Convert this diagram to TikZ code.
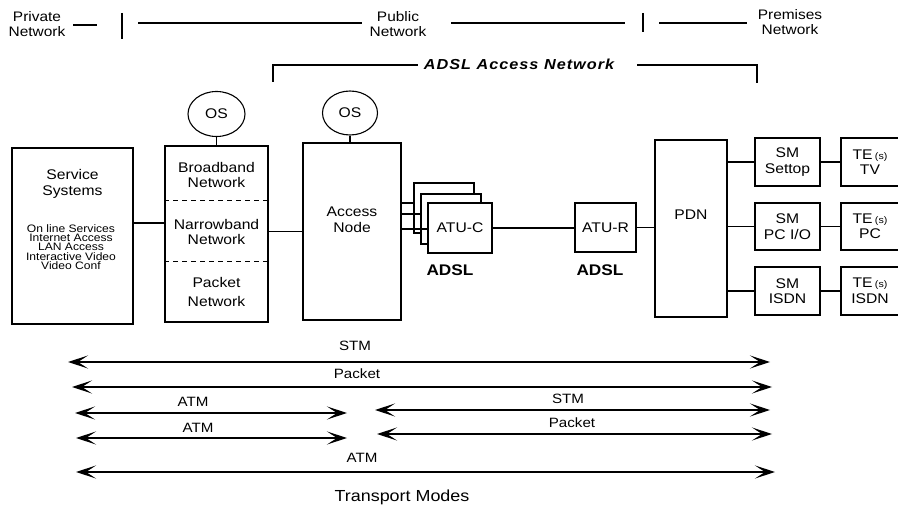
\documentclass[tikz,border=0pt]{standalone}
\usepackage{fontspec}
\setmainfont{Liberation Sans}[FakeStretch=1.12]
\usetikzlibrary{arrows.meta,shapes.geometric}
\begin{document}
\begin{tikzpicture}[x=1pt,y=-1pt,line width=1.1pt,
  box/.style={draw,fill=white,inner sep=0pt,align=center,font=\fontsize{14}{15.5}\selectfont},
  txt/.style={inner sep=0pt,align=center,font=\fontsize{14}{15.5}\selectfont},
  hdr/.style={inner sep=0pt,align=center,font=\fontsize{13.8}{14.5}\selectfont},
  small/.style={inner sep=0pt,align=center,font=\fontsize{10.8}{9.4}\selectfont},
  lab/.style={inner sep=0pt,font=\fontsize{13.5}{14}\selectfont},
  adsl/.style={inner sep=0pt,font=\fontsize{15.4}{16}\selectfont\bfseries},
  osnode/.style={draw,ellipse,inner sep=0pt,font=\fontsize{14}{15}\selectfont},
  arr/.style={{Stealth[length=20pt,width=13pt,inset=10pt]}-{Stealth[length=20pt,width=13pt,inset=10pt]}},
]
\clip (0,0) rectangle (898,508);
\fill[white] (0,0) rectangle (898,508);

% ---------- header ----------
\node[hdr] (priv) at (37,24) {Private\\Network};
\node[hdr] (pub) at (398,24) {Public\\Network};
\node[hdr] (prem) at (790,22) {Premises\\Network};
\coordinate (h1a) at (73,25);  \coordinate (h1b) at (97,25);
\coordinate (v1a) at (122,13); \coordinate (v1b) at (122,39);
\coordinate (h2a) at (138,23); \coordinate (h2b) at (362,23);
\coordinate (h3a) at (451,23); \coordinate (h3b) at (625,23);
\coordinate (v2a) at (643,13); \coordinate (v2b) at (643,32);
\coordinate (h4a) at (659,23); \coordinate (h4b) at (747,23);
\draw (h1a) -- (h1b);
\draw (v1a) -- (v1b);
\draw (h2a) -- (h2b);
\draw (h3a) -- (h3b);
\draw (v2a) -- (v2b);
\draw (h4a) -- (h4b);

% ---------- ADSL access network bracket ----------
\node[inner sep=0pt,font=\fontsize{14.5}{15}\selectfont\bfseries\itshape\addfontfeature{LetterSpace=7}] (aan) at (519,64) {ADSL Access Network};
\coordinate (b1) at (273,82); \coordinate (b2) at (273,65); \coordinate (b3) at (418,65);
\coordinate (b4) at (637,65); \coordinate (b5) at (757,65); \coordinate (b6) at (757,83);
\draw (b1) -- (b2) -- (b3);
\draw (b4) -- (b5) -- (b6);

% ---------- boxes ----------
\node[box,minimum width=121pt,minimum height=176pt] (ss) at (72.5,236) {};
\node[txt] (sst) at (72.5,184) {Service\\Systems};
\node[small] (ssl) at (71,247) {On line Services\\Internet Access\\LAN Access\\Interactive Video\\Video Conf};

\node[box,minimum width=103pt,minimum height=176pt] (nb) at (216.5,234) {};
\draw[line width=1pt,dash pattern=on 5pt off 4pt] (nb.west |- 0,201) -- (nb.east |- 0,201);
\draw[line width=1pt,dash pattern=on 5pt off 4pt] (nb.west |- 0,262) -- (nb.east |- 0,262);
\node[txt] (bbn) at (216.5,175) {Broadband\\Network};
\node[txt] (nbn) at (216.5,232) {Narrowband\\Network};
\node[txt,font=\fontsize{14}{19}\selectfont] (pkn) at (216.5,292) {Packet\\Network};

\node[osnode,minimum width=57pt,minimum height=45pt] (os1) at (216.5,114) {OS};
\node[osnode,minimum width=55pt,minimum height=44pt] (os2) at (350,113) {OS};

\node[box,minimum width=98pt,minimum height=177pt] (an) at (352,231.5) {};
\node[txt] (ant) at (352,220) {Access\\Node};

\node[box,minimum width=60pt,minimum height=50pt] (atub) at (444,208) {};
\node[box,minimum width=60pt,minimum height=50pt] (atum) at (451,219) {};
\node[box,minimum width=64pt,minimum height=50pt] (atuc) at (460,228) {ATU-C};
\node[adsl] (adsl1) at (450,270) {ADSL};

\node[box,minimum width=61pt,minimum height=49pt] (atur) at (605.5,227.5) {ATU-R};
\node[adsl] (adsl2) at (600,270) {ADSL};

\node[box,minimum width=72pt,minimum height=177pt] (pdn) at (691,228.5) {};
\node[txt] (pdnt) at (691,215) {PDN};

\node[box,minimum width=65pt,minimum height=48pt] (sm1) at (787.5,162) {SM\\Settop};
\node[box,minimum width=65pt,minimum height=47pt] (sm2) at (787.5,226.5) {SM\\PC I/O};
\node[box,minimum width=65pt,minimum height=48pt] (sm3) at (787.5,291) {SM\\ISDN};

\newcommand{\tes}{TE\,{\fontsize{9.5}{10}\selectfont(s)}}
\node[box,minimum width=58pt,minimum height=48pt] (te1) at (870,162) {\tes\\TV};
\node[box,minimum width=58pt,minimum height=47pt] (te2) at (870,226.5) {\tes\\PC};
\node[box,minimum width=58pt,minimum height=48pt] (te3) at (870,291) {\tes\\ISDN};

% ---------- connectors ----------
\draw ([yshift=13pt]ss.east) coordinate (c1) -- (c1 -| nb.west);
\draw (an.west) -- (an.west -| nb.east);
\draw (os1.south) -- (os1.south |- nb.north);
\draw (os2.south) -- (os2.south |- an.north);
\draw ([yshift=5pt]atub.west) coordinate (c2) -- (c2 -| an.east);
\draw ([yshift=5pt]atum.west) coordinate (c3) -- (c3 -| an.east);
\draw ([yshift=-1pt]atuc.west) coordinate (c4) -- (c4 -| an.east);
\draw (atuc.east) -- (atuc.east -| atur.west);
\draw (atur.east) -- (atur.east -| pdn.west);
\draw (sm1.west) -- (sm1.west -| pdn.east);
\draw (sm2.west) -- (sm2.west -| pdn.east);
\draw (sm3.west) -- (sm3.west -| pdn.east);
\draw (sm1.east) -- (te1.west);
\draw (sm2.east) -- (te2.west);
\draw (sm3.east) -- (te3.west);

% ---------- transport modes ----------
\coordinate (r1a) at (68,362);  \coordinate (r1b) at (770,362);
\coordinate (r2a) at (72,387);  \coordinate (r2b) at (772,387);
\coordinate (r3a) at (75,413);  \coordinate (r3b) at (347,413);
\coordinate (r3c) at (375,410); \coordinate (r3d) at (770,410);
\coordinate (r4a) at (76,438);  \coordinate (r4b) at (347,438);
\coordinate (r4c) at (377,434); \coordinate (r4d) at (772,434);
\coordinate (r5a) at (76,472);  \coordinate (r5b) at (775,472);
\draw[arr] (r1a) -- (r1b);
\draw[arr] (r2a) -- (r2b);
\draw[arr] (r3a) -- (r3b);
\draw[arr] (r3c) -- (r3d);
\draw[arr] (r4a) -- (r4b);
\draw[arr] (r4c) -- (r4d);
\draw[arr] (r5a) -- (r5b);
\node[lab] (l1) at (355,346) {STM};
\node[lab] (l2) at (357,374) {Packet};
\node[lab] (l3) at (193,402) {ATM};
\node[lab] (l4) at (568,399) {STM};
\node[lab] (l5) at (198,428) {ATM};
\node[lab] (l6) at (572,423) {Packet};
\node[lab] (l7) at (362,458) {ATM};
\node[inner sep=0pt,font=\fontsize{16}{17}\selectfont] (tm) at (402,497) {Transport Modes};
\end{tikzpicture}
\end{document}
